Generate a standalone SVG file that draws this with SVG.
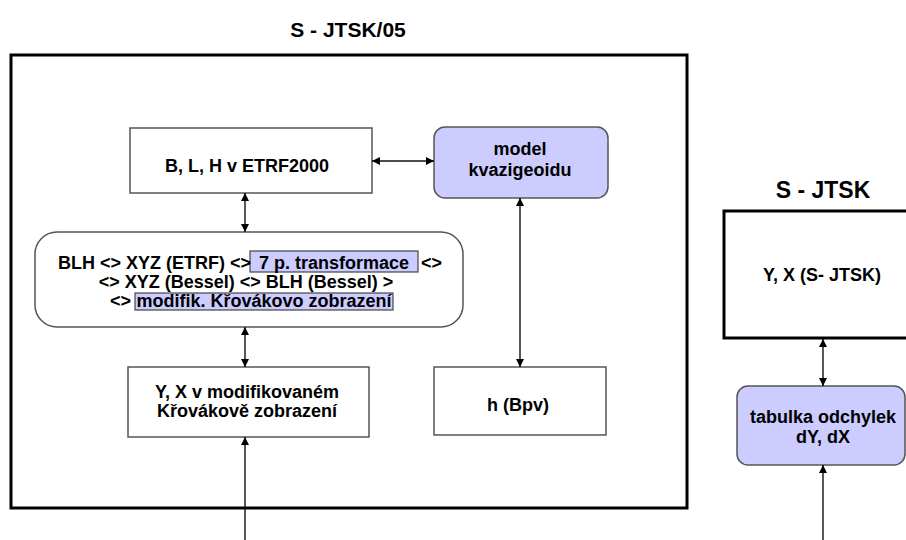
<svg xmlns="http://www.w3.org/2000/svg" width="906" height="540" viewBox="0 0 906 540">
<defs>
<marker id="ah" viewBox="0 0 10 10" refX="10" refY="5" markerWidth="9" markerHeight="8" markerUnits="userSpaceOnUse" orient="auto-start-reverse">
<path d="M0,0 L10,5 L0,10 z" fill="#000"/>
</marker>
<style>
.t{font-family:"Liberation Sans",Arial,sans-serif;font-weight:bold;font-size:18px;fill:#000;text-anchor:middle}
.title{font-family:"Liberation Sans",Arial,sans-serif;font-weight:bold;font-size:21px;fill:#000;text-anchor:middle}
.frame{fill:#fff;stroke:#000;stroke-width:3}
.box{fill:#fff;stroke:#555;stroke-width:1.5}
.blue{fill:#ccccff;stroke:#555;stroke-width:1.5}
.hl{fill:#ccccff;stroke:#444;stroke-width:1.2}
.c{stroke:#111;stroke-width:1.4;fill:none}
</style>
</defs>
<rect width="906" height="540" fill="#fff"/>

<g id="frame-sjtsk05">
<text class="title" x="348" y="37">S - JTSK/05</text>
<rect class="frame" x="11" y="55" width="676" height="453"/>
</g>

<g id="frame-sjtsk">
<text class="title" x="823" y="198" style="font-size:23px">S - JTSK</text>
<rect class="frame" x="724" y="211" width="190" height="127"/>
<text class="t" x="822" y="281">Y, X (S- JTSK)</text>
</g>

<g id="node-blh">
<rect class="box" x="130" y="128" width="242" height="65"/>
<text class="t" x="247" y="172">B, L, H v ETRF2000</text>
</g>

<g id="node-model">
<rect class="blue" x="434" y="127" width="174" height="71" rx="11"/>
<text class="t" x="520" y="155">model</text>
<text class="t" x="520" y="176">kvazigeoidu</text>
</g>

<g id="node-process">
<rect class="box" x="35" y="232" width="428" height="95" rx="22"/>
<rect class="hl" x="250" y="251" width="168" height="21"/>
<rect class="hl" x="135" y="293" width="258" height="17"/>
<text class="t" x="58" y="269" style="text-anchor:start">BLH &lt;&gt; XYZ (ETRF) &lt;&gt;</text>
<text class="t" x="334" y="269">7 p. transformace</text>
<text class="t" x="421" y="269" style="text-anchor:start">&lt;&gt;</text>
<text class="t" x="246" y="288">&lt;&gt; XYZ (Bessel) &lt;&gt; BLH (Bessel) &gt;</text>
<text class="t" x="110" y="307" style="text-anchor:start">&lt;&gt;</text>
<text class="t" x="264" y="307">modifik. Křovákovo zobrazení</text>
</g>

<g id="node-yx">
<rect class="box" x="128" y="367" width="241" height="70"/>
<text class="t" x="247" y="398">Y, X v modifikovaném</text>
<text class="t" x="247" y="417">Křovákově zobrazení</text>
</g>

<g id="node-h">
<rect class="box" x="434" y="367" width="172" height="68"/>
<text class="t" x="518" y="411">h (Bpv)</text>
</g>

<g id="node-tabulka">
<rect class="blue" x="737" y="386" width="168" height="79" rx="11"/>
<text class="t" x="823" y="423">tabulka odchylek</text>
<text class="t" x="823" y="443">dY, dX</text>
</g>

<g id="connectors">
<line class="c" x1="372" y1="161" x2="434" y2="161" marker-start="url(#ah)" marker-end="url(#ah)"/>
<line class="c" x1="245" y1="193" x2="245" y2="232" marker-start="url(#ah)" marker-end="url(#ah)"/>
<line class="c" x1="245" y1="327" x2="245" y2="367" marker-start="url(#ah)" marker-end="url(#ah)"/>
<line class="c" x1="520" y1="198" x2="520" y2="367" marker-start="url(#ah)" marker-end="url(#ah)"/>
<line class="c" x1="245" y1="540" x2="245" y2="437" marker-end="url(#ah)"/>
<line class="c" x1="823" y1="339" x2="823" y2="386" marker-start="url(#ah)" marker-end="url(#ah)"/>
<line class="c" x1="823" y1="540" x2="823" y2="465" marker-end="url(#ah)"/>
</g>
</svg>
